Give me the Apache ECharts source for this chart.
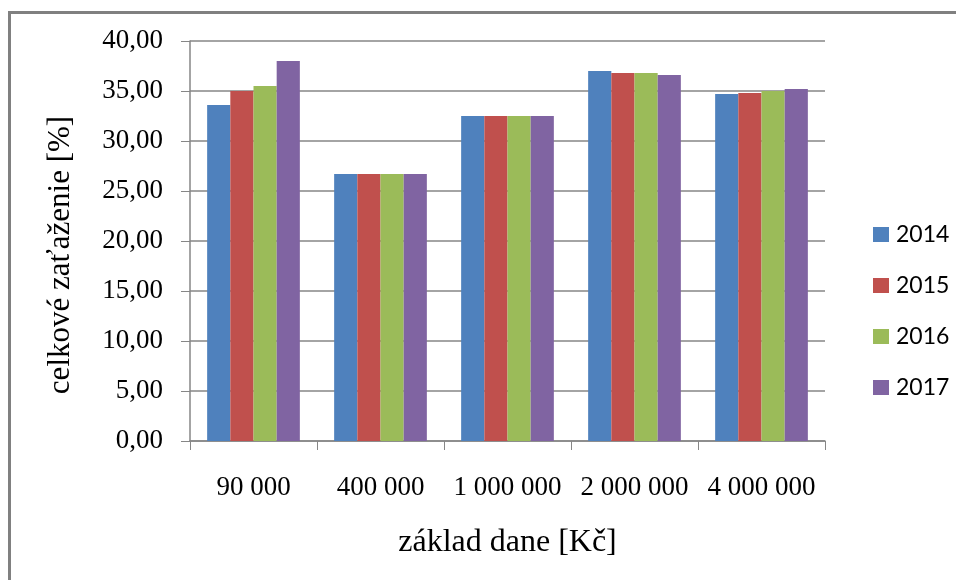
<!DOCTYPE html>
<html>
<head>
<meta charset="utf-8">
<script src="https://cdn.jsdelivr.net/npm/echarts@6/dist/echarts.min.js"></script>
<style>
  html, body { margin: 0; padding: 0; background: #fff; }
  #chart { width: 956px; height: 580px; }
</style>
</head>
<body>
<div id="chart"></div>
<script>
// Tax base categories (CZK)
const categories = ['90 000', '400 000', '1 000 000', '2 000 000', '4 000 000'];

// Total tax burden [%] per year
const years = ['2014', '2015', '2016', '2017'];
const values2014 = [33.6, 26.7, 32.5, 37.0, 34.7];
const values2015 = [35.0, 26.7, 32.5, 36.8, 34.8];
const values2016 = [35.5, 26.7, 32.5, 36.8, 35.0];
const values2017 = [38.0, 26.7, 32.5, 36.6, 35.2];
const seriesValues = [values2014, values2015, values2016, values2017];

const colors = ['#4f81bd', '#c0504d', '#9bbb59', '#8064a2'];
const serif = '"Liberation Serif", "DejaVu Serif", serif';

const chart = echarts.init(document.getElementById('chart'));

const fmt = v => v.toFixed(2).replace('.', ',');

chart.setOption({
  animation: false,
  color: colors,
  graphic: [{
    type: 'rect',
    shape: { x: 9.5, y: 12.5, width: 960, height: 600 },
    style: { fill: 'none', stroke: '#808080', lineWidth: 3 },
    silent: true
  }],
  grid: { left: 190, right: 131, top: 41, bottom: 139 },
  legend: {
    orient: 'vertical',
    left: 868,
    top: 218,
    itemWidth: 16,
    itemHeight: 15,
    itemGap: 28,
    icon: 'rect',
    textStyle: {
      fontFamily: 'Lato, "Open Sans", sans-serif',
      fontSize: 23,
      lineHeight: 20,
      color: '#000',
      padding: [0, 0, 0, 2]
    },
    data: years
  },
  xAxis: {
    type: 'category',
    data: categories,
    name: 'základ dane [Kč]',
    nameLocation: 'middle',
    nameGap: 86,
    nameTextStyle: { fontFamily: serif, fontSize: 32, color: '#000' },
    axisLine: { lineStyle: { color: '#868686', width: 1.5 } },
    axisTick: { show: true, length: 9, lineStyle: { color: '#868686' } },
    axisLabel: { fontFamily: serif, fontSize: 27, color: '#000', margin: 33, interval: 0, hideOverlap: false }
  },
  yAxis: {
    type: 'value',
    min: 0,
    max: 40,
    interval: 5,
    name: 'celkové zaťaženie [%]',
    nameLocation: 'middle',
    nameRotate: 90,
    nameGap: 114,
    nameTextStyle: { fontFamily: serif, fontSize: 31, color: '#000', padding: [0, 28, 0, 0] },
    axisLine: { show: true, lineStyle: { color: '#868686', width: 1.5 } },
    axisTick: { show: true, length: 9, lineStyle: { color: '#868686' } },
    splitLine: { lineStyle: { color: '#868686', width: 1.5 } },
    axisLabel: { fontFamily: serif, fontSize: 27, color: '#000', margin: 27, formatter: fmt }
  },
  series: years.map((y, i) => ({
    name: y,
    type: 'bar',
    data: seriesValues[i],
    barGap: '0%',
    barCategoryGap: '27%'
  }))
});
</script>
</body>
</html>
